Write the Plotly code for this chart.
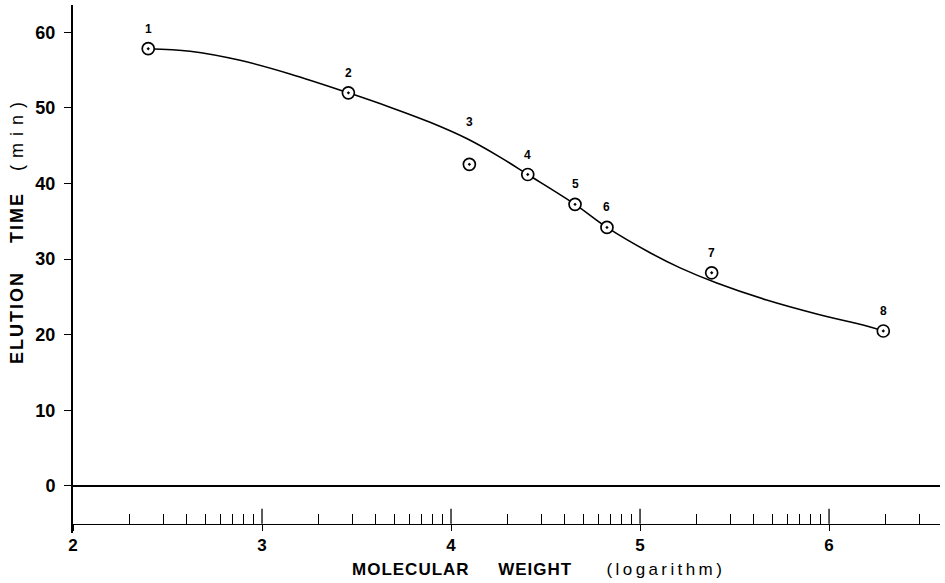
import math
import plotly.graph_objects as go

# --- data ---
point_x = [2.398, 3.457, 4.097, 4.406, 4.656, 4.825, 5.379, 6.287]
point_y = [57.84, 52.0, 42.54, 41.2, 37.25, 34.2, 28.2, 20.5]
point_labels = ["1", "2", "3", "4", "5", "6", "7", "8"]

curve_x = [2.398, 2.619, 2.884, 3.148, 3.457, 3.677, 3.889, 4.083, 4.259, 4.406,
           4.656, 4.825, 5.053, 5.212, 5.406, 5.670, 5.935, 6.199, 6.287]
curve_y = [57.84, 57.5, 56.3, 54.5, 52.0, 50.1, 48.1, 45.95, 43.5, 41.2,
           37.25, 34.2, 30.85, 28.85, 26.85, 24.6, 22.75, 21.15, 20.5]

x_ticks = [2, 3, 4, 5, 6]
x_ticklabels = ["2", "3", "4", "5", "6"]
y_ticks = [0, 10, 20, 30, 40, 50, 60]
y_ticklabels = ["0", "10", "20", "30", "40", "50", "60"]

X_MIN, X_MAX = 2.0, 6.587
Y_MIN, Y_MAX = -6.22, 63.62
AXIS_Y = -5  # level of the molecular-weight scale line
minor_ticks = [d + math.log10(k) for d in range(2, 7) for k in range(2, 10)
               if d + math.log10(k) < X_MAX]

FONT = "Liberation Sans, Arial, sans-serif"
NB = "\u00a0"

fig = go.Figure()
fig.add_trace(go.Scatter(x=curve_x, y=curve_y, mode="lines",
                         line=dict(color="black", width=1.6, shape="spline", smoothing=1.0),
                         hoverinfo="skip", showlegend=False))
fig.add_trace(go.Scatter(x=point_x, y=point_y, mode="markers",
                         marker=dict(symbol="circle-dot", size=12, color="white",
                                     line=dict(color="black", width=1.7)),
                         showlegend=False))

# point number labels
for x, y, t in zip(point_x, point_y, point_labels):
    fig.add_annotation(x=x, y=y, text="<b>" + t + "</b>", showarrow=False,
                       yshift=42 if t == "3" else 20,
                       font=dict(family=FONT, size=12, color="black"))

# zero line
fig.add_shape(type="line", xref="x", yref="y", x0=X_MIN, x1=X_MAX, y0=0, y1=0,
              line=dict(color="black", width=2.2))
# upper parts of the major ticks crossing the scale line
for v in x_ticks[1:]:
    fig.add_shape(type="line", xref="x", yref="y", x0=v, x1=v, y0=AXIS_Y, y1=AXIS_Y + 2.0,
                  line=dict(color="black", width=1.3))

fig.update_layout(
    width=945, height=583,
    margin=dict(l=73, r=5, t=5, b=50),
    paper_bgcolor="white", plot_bgcolor="white",
    font=dict(family=FONT, color="black"),
    xaxis=dict(range=[X_MIN, X_MAX], showgrid=False, zeroline=False,
               anchor="free", position=(AXIS_Y - Y_MIN) / (Y_MAX - Y_MIN),
               showline=True, linecolor="black", linewidth=1.4,
               tickmode="array", tickvals=x_ticks, ticktext=x_ticklabels,
               ticks="outside", ticklen=6, tickwidth=1.3, tickcolor="black",
               tickfont=dict(family=FONT, size=17, color="black", weight="bold"),
               ticklabelstandoff=0,
               minor=dict(tickmode="array", tickvals=minor_ticks, ticks="inside",
                          ticklen=10, tickwidth=1.1, tickcolor="black", showgrid=False)),
    yaxis=dict(range=[Y_MIN, Y_MAX], showgrid=False, zeroline=False,
               showline=True, linecolor="black", linewidth=2,
               tickmode="array", tickvals=y_ticks, ticktext=y_ticklabels,
               ticks="outside", ticklen=7, tickwidth=1.3, tickcolor="black",
               tickfont=dict(family=FONT, size=18, color="black", weight="bold"),
               ticklabelstandoff=5),
)

# axis titles
ytitle = ('<span style="letter-spacing:2px"><b>ELUTION' + NB * 4 + 'TIME' + NB * 3 + '</b></span>'
          '<span style="letter-spacing:7px">(min)</span>')
fig.add_annotation(xref="paper", yref="paper",
                   x=(17 - 73) / 867, y=(533 - 230) / 528,
                   xanchor="center", yanchor="middle", textangle=-90, showarrow=False,
                   text=ytitle, font=dict(family=FONT, size=18, color="black"))
xtitle = ('<span style="letter-spacing:1px"><b>MOLECULAR' + NB * 5 + 'WEIGHT' + NB * 6 + '</b></span>'
          '<span style="letter-spacing:3.4px">(logarithm)</span>')
fig.add_annotation(xref="paper", yref="paper",
                   x=(538 - 73) / 867, y=-(569 - 533) / 528,
                   xanchor="center", yanchor="middle", showarrow=False,
                   text=xtitle, font=dict(family=FONT, size=17, color="black"))

fig.write_html("out.html", config={"displayModeBar": False},
               post_script="document.body.style.margin='0px';")
